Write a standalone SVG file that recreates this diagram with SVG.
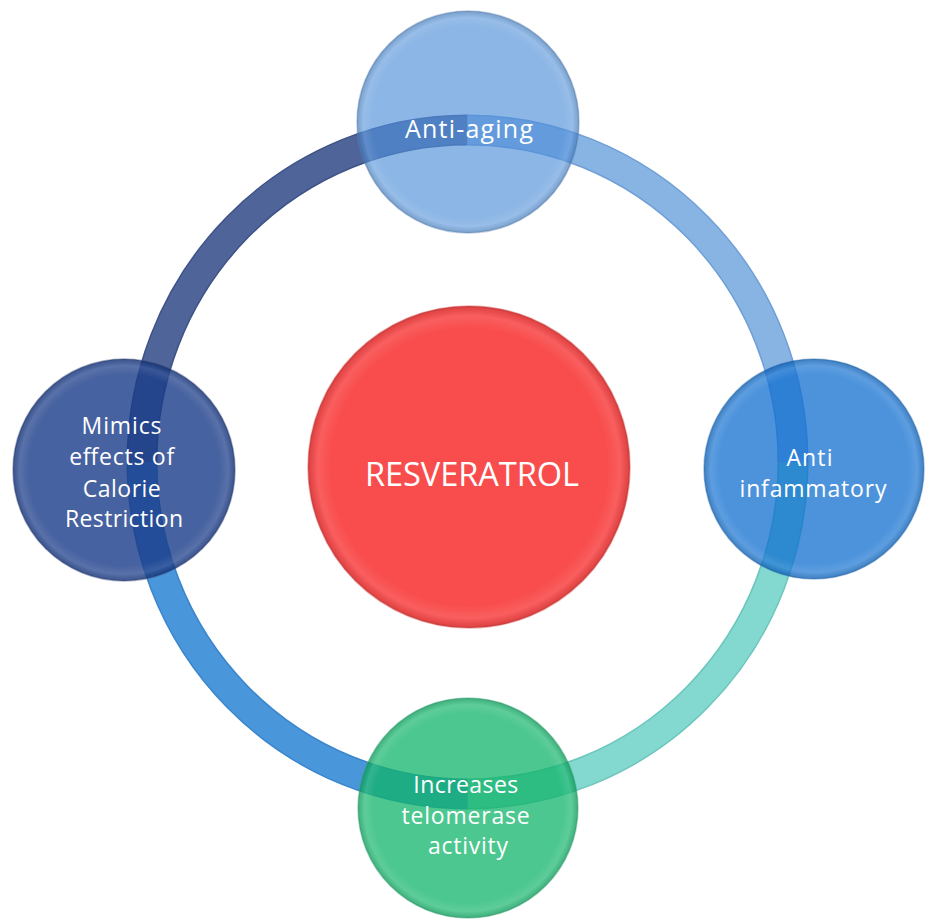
<svg xmlns="http://www.w3.org/2000/svg" width="925" height="919" viewBox="0 0 925 919">
  <style>
    .label { font-family: "Open Sans", "Liberation Sans", sans-serif; fill: #ffffff; text-anchor: middle; }
    .arc { fill: none; stroke-linecap: butt; }
    .rim { fill: url(#bevel); stroke-width: 1.6; stroke-opacity: 0.4; }
  </style>
  <defs>
    <!-- soft rim shading laid over every disc -->
    <radialGradient id="bevel" cx="0.5" cy="0.5" r="0.5">
      <stop offset="0.86" stop-color="#ffffff" stop-opacity="0"/>
      <stop offset="0.94" stop-color="#ffffff" stop-opacity="0.10"/>
      <stop offset="0.985" stop-color="#000000" stop-opacity="0.08"/>
      <stop offset="1" stop-color="#000000" stop-opacity="0.22"/>
    </radialGradient>
    <filter id="soft" x="-5%" y="-5%" width="110%" height="110%">
      <feGaussianBlur stdDeviation="0.7"/>
    </filter>
  </defs>

  <rect width="925" height="919" fill="#ffffff"/>

  <!-- ring of four coloured arcs linking the outer nodes -->
  <g id="connectors" filter="url(#soft)">
    <path class="arc" d="M142,462 A325.5,332 0 0 1 467.5,130" stroke="#3f5287" stroke-width="31"/>
    <path class="arc" d="M142,462 A325.5,332 0 0 1 467.5,130" stroke="#50659a" stroke-width="28"/>
    <path class="arc" d="M467.5,130 A325.5,332 0 0 1 793,462" stroke="#6f9fd6" stroke-width="31"/>
    <path class="arc" d="M467.5,130 A325.5,332 0 0 1 793,462" stroke="#88b4e4" stroke-width="28"/>
    <path class="arc" d="M793,462 A325.5,332 0 0 1 467.5,794" stroke="#6cc6bd" stroke-width="31"/>
    <path class="arc" d="M793,462 A325.5,332 0 0 1 467.5,794" stroke="#83d8cf" stroke-width="28"/>
    <path class="arc" d="M467.5,794 A325.5,332 0 0 1 142,462" stroke="#3a86cc" stroke-width="31"/>
    <path class="arc" d="M467.5,794 A325.5,332 0 0 1 142,462" stroke="#4a96da" stroke-width="28"/>
  </g>

  <!-- centre -->
  <g id="node-resveratrol">
    <circle cx="469" cy="467" r="161" fill="#f94e4e" filter="url(#soft)"/>
    <circle class="rim" cx="469" cy="467" r="161" stroke="#d84444"/>
    <text class="label" x="472" y="486" font-size="32.6" textLength="214" lengthAdjust="spacing">RESVERATROL</text>
  </g>

  <!-- top -->
  <g id="node-anti-aging">
    <circle cx="468" cy="122" r="111" fill="#508fd9" fill-opacity="0.65" filter="url(#soft)"/>
    <circle class="rim" cx="468" cy="122" r="111" stroke="#5f86b8"/>
    <text class="label" x="469" y="138" font-size="25" textLength="128" lengthAdjust="spacing">Anti-aging</text>
  </g>

  <!-- left -->
  <g id="node-calorie-restriction">
    <circle cx="124" cy="470" r="111" fill="#1d3b88" fill-opacity="0.8" filter="url(#soft)"/>
    <circle class="rim" cx="124" cy="470" r="111" stroke="#2f4478"/>
    <text class="label" font-size="23">
      <tspan x="125" y="434" textLength="80" lengthAdjust="spacing">Mimics</tspan>
      <tspan x="125" y="465" textLength="105" lengthAdjust="spacing">effects of</tspan>
      <tspan x="125" y="497" textLength="78" lengthAdjust="spacing">Calorie</tspan>
      <tspan x="124" y="527" textLength="118" lengthAdjust="spacing">Restriction</tspan>
    </text>
  </g>

  <!-- right -->
  <g id="node-anti-inflammatory">
    <circle cx="814" cy="469" r="110" fill="#0d6fd0" fill-opacity="0.75" filter="url(#soft)"/>
    <circle class="rim" cx="814" cy="469" r="110" stroke="#2b6fb4"/>
    <text class="label" font-size="23">
      <tspan x="813" y="466" textLength="46" lengthAdjust="spacing">Anti</tspan>
      <tspan x="813" y="497" textLength="147" lengthAdjust="spacing">infammatory</tspan>
    </text>
  </g>

  <!-- bottom -->
  <g id="node-telomerase">
    <circle cx="468" cy="808" r="110" fill="#15b468" fill-opacity="0.75" filter="url(#soft)"/>
    <circle class="rim" cx="468" cy="808" r="110" stroke="#3aa878"/>
    <text class="label" font-size="23">
      <tspan x="469" y="793" textLength="105" lengthAdjust="spacing">Increases</tspan>
      <tspan x="469" y="824" textLength="128" lengthAdjust="spacing">telomerase</tspan>
      <tspan x="468" y="854" textLength="80" lengthAdjust="spacing">activity</tspan>
    </text>
  </g>
</svg>
